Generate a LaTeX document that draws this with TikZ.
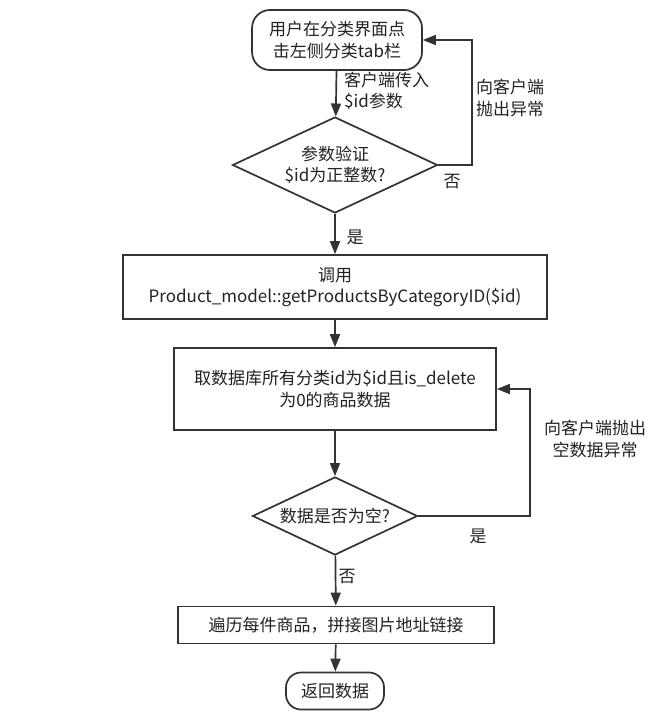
\documentclass[tikz,border=0pt]{standalone}
\usepackage{fontspec}
\setmainfont{Noto Sans CJK SC}
\usepackage{tikz}
\usetikzlibrary{arrows.meta,shapes.geometric}
\definecolor{fcline}{HTML}{333333}
\definecolor{fctext}{HTML}{222222}

\begin{document}
\begin{tikzpicture}[
    x=1pt,
    y=-1pt,
    font=\fontsize{17}{21.5}\selectfont,
    text=fctext,
    terminal/.style={rectangle, rounded corners=18pt, draw=fcline, line width=1.7pt, fill=white, align=center},
    process/.style={rectangle, draw=fcline, line width=1.7pt, fill=white, align=center},
    decision/.style={diamond, draw=fcline, line width=1.7pt, fill=white, align=center, shape aspect=2.1, inner sep=0pt},
    flow/.style={draw=fcline, line width=1.7pt, -{Triangle[length=13pt,width=10pt]}},
    lbl/.style={inner sep=0pt, align=left}
  ]
    \useasboundingbox (0,0) rectangle (666,725);

    % main column
    \node[terminal, minimum width=170, minimum height=60] (start) at (337,40) {用户在分类界面点\\击左侧分类tab栏};
    \node[decision, minimum width=205, minimum height=96] (check) at (335,165) {参数验证\\\$id为正整数?};
    \node[process, minimum width=424, minimum height=64] (call) at (335,287) {调用\\Product\_model::getProductsByCategoryID(\$id)};
    \node[process, minimum width=322, minimum height=82] (fetch) at (335,389) {取数据库所有分类id为\$id且is\_delete\\为0的商品数据};
    \node[decision, minimum width=165, minimum height=78] (empty) at (335,516) {数据是否为空?};
    \node[process, minimum width=316, minimum height=37] (loop) at (336,625) {遍历每件商品，拼接图片地址链接};
    \node[terminal, rounded corners=15pt, minimum width=98, minimum height=37] (finish) at (335,691) {返回数据};

    % bends of the two loops
    \coordinate (back1) at (472,165);
    \coordinate (back2) at (530,516);

    \draw[flow] (start) -- (check);
    \draw[flow] (check) -- (call);
    \draw[flow] (call) -- (fetch);
    \draw[flow] (fetch) -- (empty);
    \draw[flow] (empty) -- (loop);
    \draw[flow] (loop) -- (finish);
    \draw[flow] (check.east) -- (back1) |- (start.east);
    \draw[flow] (empty.east) -- (back2) |- (fetch.east);

    % labels
    \node[lbl, anchor=west] (inlbl) at (344,91) {客户端传入\\\$id参数};
    \node[lbl, anchor=west] (errlbl) at (476,98) {向客户端\\抛出异常};
    \node[lbl] (no1) at (452,182) {否};
    \node[lbl] (yes1) at (355,237) {是};
    \node[lbl, align=center] (emptylbl) at (595,439) {向客户端抛出\\空数据异常};
    \node[lbl] (yes2) at (478,536) {是};
    \node[lbl] (no2) at (347,577) {否};
  \end{tikzpicture}
\end{document}
